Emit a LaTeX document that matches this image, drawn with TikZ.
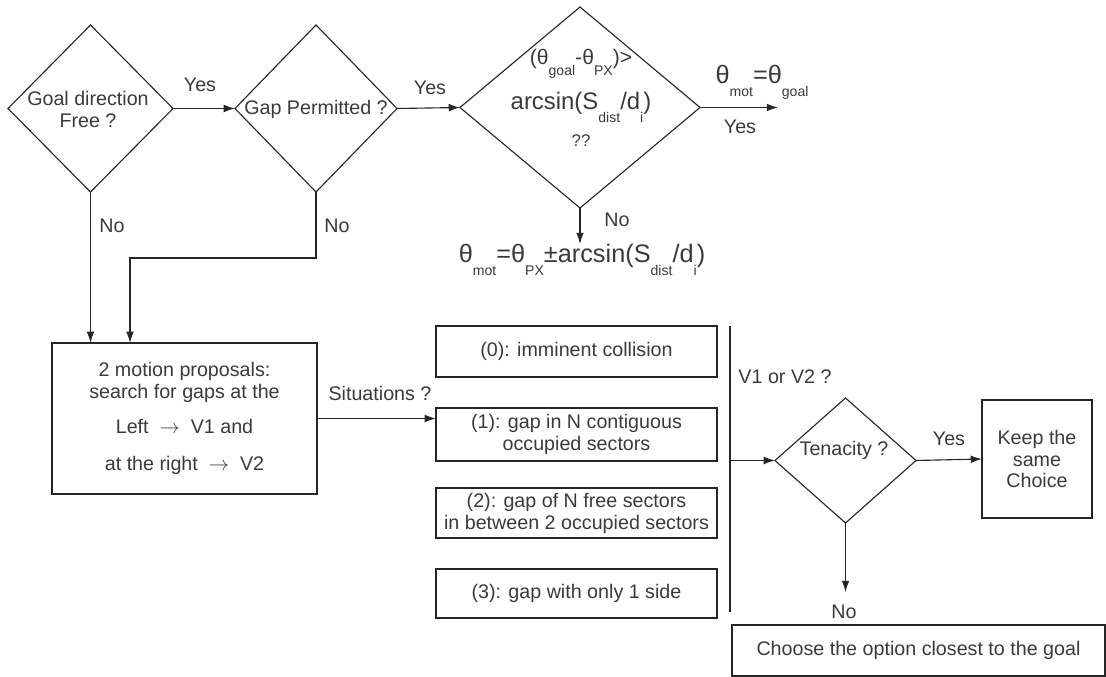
\documentclass[tikz,border=0pt]{standalone}
\usepackage{fontspec}
\setmainfont{Liberation Sans}
\usepackage{xcolor}
\usepackage{tikz}
\usetikzlibrary{shapes.geometric,arrows.meta}
\definecolor{txtgray}{HTML}{3A3A3A}
\newcommand{\lsub}[1]{\raisebox{-1ex}{\fontsize{10}{10}\selectfont #1}}

\begin{document}
\begin{tikzpicture}[x=0.025cm, y=-0.025cm,
    decision/.style={diamond, draw=black!85, line width=0.8pt, inner sep=0pt, outer sep=0pt},
    procbox/.style={rectangle, draw=black!85, line width=0.8pt, inner sep=0pt, outer sep=0pt,
                    align=center, text=txtgray, font=\fontsize{14}{15.6}\selectfont},
    txt/.style={text=txtgray, font=\fontsize{14}{15.6}\selectfont, align=center, inner sep=0pt},
    bigtxt/.style={text=txtgray, font=\fontsize{18}{20}\selectfont, inner sep=0pt},
    flow/.style={draw=black!85, line width=0.8pt, -{Latex[length=8pt,width=5.5pt]}},
    link/.style={draw=black!85, line width=0.8pt},
]
\useasboundingbox (0,0) rectangle (1106,677);

% === Top row: decisions ===
\node[decision, minimum width=4.125cm, minimum height=4.175cm] (goalfree) at (90.5,108.5) {};
\node[txt] (goalfreetxt) at (88,109) {Goal direction\\Free ?};
\node[decision, minimum width=4.05cm, minimum height=4.175cm] (gapok) at (316,108.5) {};
\node[txt] (gapoktxt) at (316,109) {Gap Permitted ?};
\node[decision, minimum width=6cm, minimum height=5.025cm] (anglechk) at (580,107.5) {};
\node[txt] (anglechktxt) at (581,98) {%
    {\fontsize{15}{15}\selectfont (θ\lsub{goal}-θ\lsub{PX})>}\\[9pt]
    {\fontsize{17}{17}\selectfont arcsin(S\lsub{dist}/d\lsub{i})}\\[8pt]
    {\fontsize{12}{12}\selectfont ??}};

\draw[flow] (goalfree.east) -- (gapok.west);
\node[txt] (yes1) at (200,85) {Yes};
\draw[flow] (gapok.east) -- (anglechk.west);
\node[txt] (yes2) at (430,88) {Yes};

% goal direction kept
\coordinate (goalend) at (778,107.5);
\draw[flow] (anglechk.east) -- (goalend);
\node[bigtxt] (motgoal) at (762,82) {θ\lsub{mot}=θ\lsub{goal}};
\node[txt] (yes3) at (740,127) {Yes};

% steering angle
\node[bigtxt, anchor=north] (steer) at (582,244) {θ\lsub{mot}=θ\lsub{PX}±arcsin(S\lsub{dist}/d\lsub{i})};
\draw[flow] (anglechk.south) -- (anglechk.south |- steer.north);
\node[txt] (no3) at (617,220) {No};

% === Motion proposals ===
\node[procbox, minimum width=6.625cm, minimum height=3.775cm] (propose) at (184.5,418.5)
    {2 motion proposals:\\ search for gaps at the\\[9pt]
     Left~~$\rightarrow$~~V1 and\\[11pt] at the right~~$\rightarrow$~~V2};

\draw[flow] (goalfree.south) -- (goalfree.south |- propose.north);
\node[txt] (no1) at (112,226) {No};
\coordinate (gapturn) at (130,258);
\draw[flow] (gapok.south) |- (gapturn) -- (gapturn |- propose.north);
\node[txt] (no2) at (337,226) {No};

% === Situations ===
\foreach \i/\y/\h/\txt in {0/351.5/1.275cm/{(0): imminent collision},
                           1/434.5/1.325cm/{(1): gap in N contiguous\\occupied sectors},
                           2/513/1.25cm/{(2): gap of N free sectors\\in between 2 occupied sectors},
                           3/593.5/1.225cm/{(3): gap with only 1 side}} {
    \node[procbox, minimum width=7.025cm, minimum height=\h] (sit\i) at (576.5,\y) {\txt};
}
\draw[flow] (propose.east) -- (propose.east -| sit1.west);
\node[txt] (sitlbl) at (380,393) {Situations ?};

% === Choice between V1 and V2 ===
\coordinate (bartop) at (730,326);
\coordinate (barbot) at (730,612);
\draw[link] (bartop) -- (barbot);
\node[txt] (vchoice) at (785,377) {V1 or V2 ?};

\node[decision, minimum width=3.525cm, minimum height=3.125cm] (tenacity) at (845.5,460.5) {};
\node[txt] (tenacitytxt) at (844,450) {Tenacity ?};
\draw[flow] (bartop |- tenacity.west) -- (tenacity.west);

\node[procbox, minimum width=2.75cm, minimum height=2.95cm] (keep) at (1037,459) {Keep the\\same\\Choice};
\draw[flow] (tenacity.east) -- (keep.west);
\node[txt] (yes4) at (949,439) {Yes};

\coordinate (noend) at (845.5,592);
\draw[flow] (tenacity.south) -- (noend);
\node[txt] (no4) at (844,612) {No};

\node[procbox, minimum width=9.325cm, minimum height=1.275cm] (closest) at (918.5,650.5)
    {Choose the option closest to the goal};

\end{tikzpicture}
\end{document}
